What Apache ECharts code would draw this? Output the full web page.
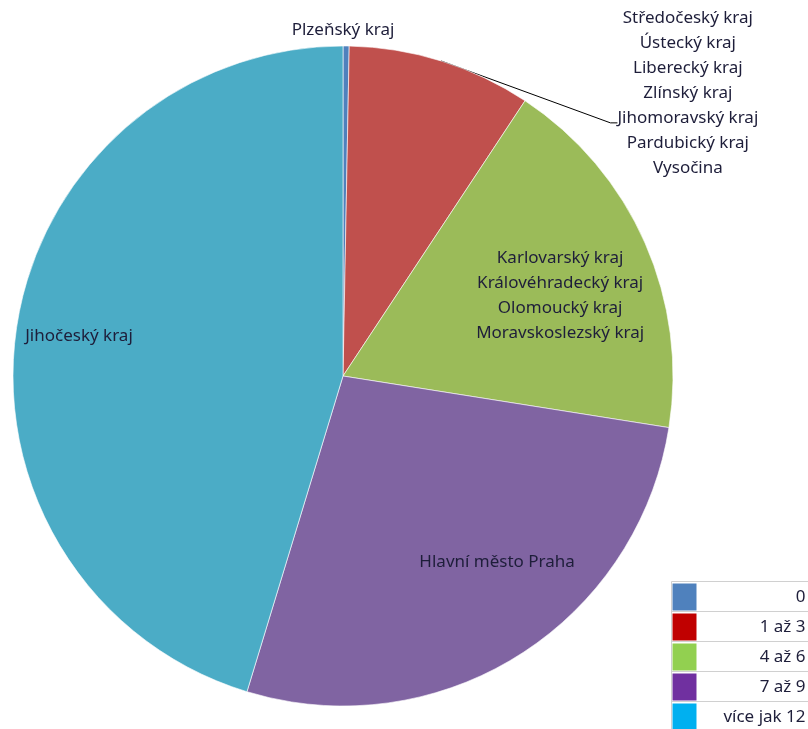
<!DOCTYPE html>
<html>
<head>
<meta charset="utf-8">
<script src="https://cdn.jsdelivr.net/npm/echarts@6/dist/echarts.min.js"></script>
<style>
  html, body { margin: 0; padding: 0; background: #fff; }
  #chart { width: 808px; height: 729px; }
</style>
</head>
<body>
<div id="chart"></div>
<script>
// kategorie (počet) a podíl výseku v %
const categories = ['0', '1 až 3', '4 až 6', '7 až 9', 'více jak 12'];
const values = [0.3, 9.0, 18.2, 27.2, 45.3];
// kraje vypsané u jednotlivých výseků
const regions = [
  ['Plzeňský kraj'],
  ['Středočeský kraj', 'Ústecký kraj', 'Liberecký kraj', 'Zlínský kraj', 'Jihomoravský kraj', 'Pardubický kraj', 'Vysočina'],
  ['Karlovarský kraj', 'Královéhradecký kraj', 'Olomoucký kraj', 'Moravskoslezský kraj'],
  ['Hlavní město Praha'],
  ['Jihočeský kraj'],
];

const sliceColors = ['#4f81bd', '#c0504d', '#9bbb59', '#8064a2', '#4bacc6'];
const legendColors = ['#4f81bd', '#c00000', '#92d050', '#7030a0', '#00b0f0'];
const font = '"Noto Sans", sans-serif';
const textColor = '#1e1e3a';

const cx = 343, cy = 376, r = 330;
// kde stojí popisky (násobky poloměru od středu)
const labelSpots = [[0, -1.048], [1.045, -0.858], [0.658, -0.242], [0.467, 0.564], [-0.80, -0.121]];

const myChart = echarts.init(document.getElementById('chart'));

// legenda jako tabulka vpravo dole
const rowH = 30;
const legendItems = [];
categories.forEach((name, i) => {
  legendItems.push({
    type: 'line',
    shape: { x1: 0, y1: i * rowH, x2: 140, y2: i * rowH },
    style: { stroke: '#d0d0d0', lineWidth: 1 },
  });
  legendItems.push({
    type: 'rect',
    shape: { x: 1, y: i * rowH + 2, width: 24, height: rowH - 3 },
    style: { fill: legendColors[i] },
  });
  legendItems.push({
    type: 'text',
    x: 134,
    y: i * rowH + rowH / 2 + 1,
    style: {
      text: name,
      align: 'right',
      verticalAlign: 'middle',
      font: '17px ' + font,
      fill: textColor,
    },
  });
});
legendItems.push({
  type: 'line',
  shape: { x1: 0, y1: 0, x2: 0, y2: rowH * categories.length },
  style: { stroke: '#d0d0d0', lineWidth: 1 },
});

const option = {
  backgroundColor: '#fff',
  animation: false,
  series: [
    {
      type: 'pie',
      center: [cx, cy],
      radius: r,
      startAngle: 90,
      clockwise: true,
      avoidLabelOverlap: false,
      itemStyle: { borderColor: '#fff', borderWidth: 0.6 },
      label: {
        show: true,
        position: 'inside',
        color: textColor,
        fontFamily: font,
        fontSize: 17,
        lineHeight: 25,
        align: 'center',
        formatter: (p) => regions[p.dataIndex].join('\n'),
      },
      labelLine: { show: false, lineStyle: { color: '#000', width: 1 } },
      labelLayout: (p) => {
        const s = labelSpots[p.dataIndex];
        const x = cx + s[0] * r;
        const y = cy + s[1] * r;
        const res = { x: x, y: y, align: 'center', verticalAlign: 'middle' };
        if (p.dataIndex === 1 && p.labelLinePoints) {
          const left = x - p.labelRect.width / 2;
          const ly = y + 30;
          res.labelLinePoints = [p.labelLinePoints[0], [left - 7, ly], [left, ly]];
        }
        return res;
      },
      data: categories.map((name, i) => {
        const item = { name: name, value: values[i], itemStyle: { color: sliceColors[i] } };
        if (i < 2) item.label = { position: 'outside' };
        if (i === 1) item.labelLine = { show: true };
        return item;
      }),
    },
  ],
  graphic: [
    {
      type: 'group',
      left: 669,
      top: 579,
      children: legendItems,
    },
  ],
};

option && myChart.setOption(option);
</script>
</body>
</html>
